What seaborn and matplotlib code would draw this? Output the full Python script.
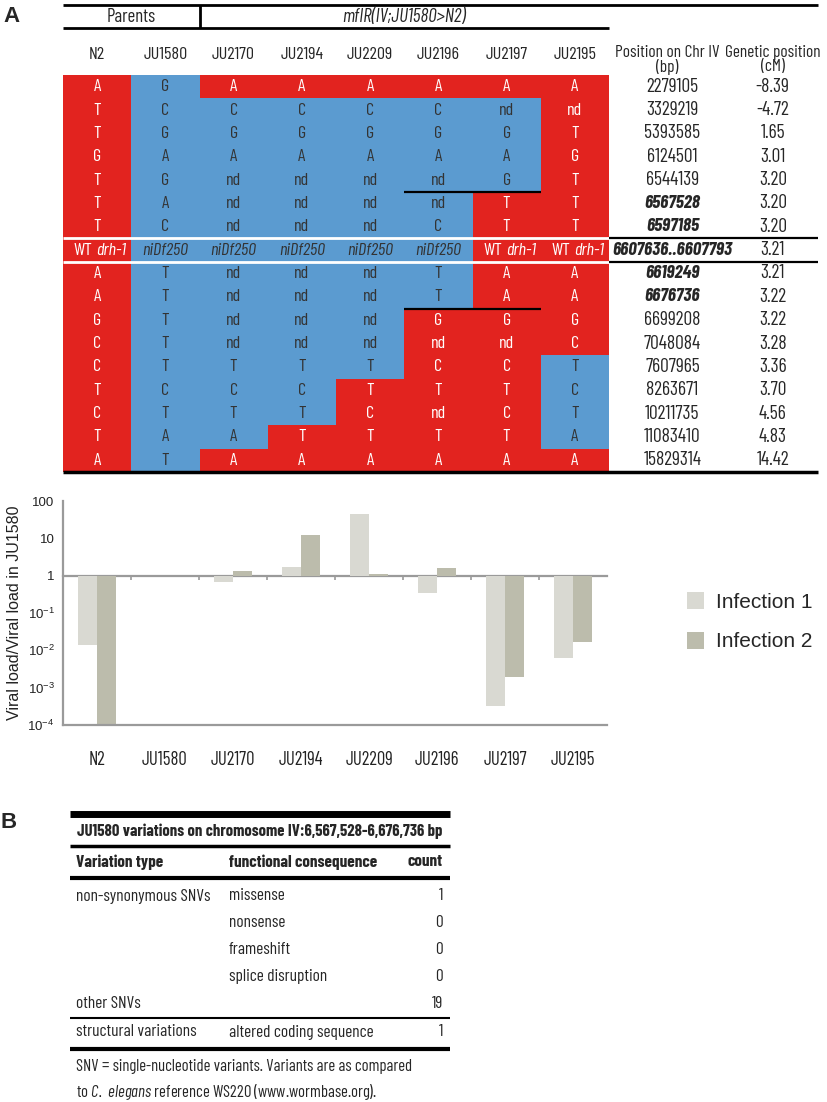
import numpy as np
import pandas as pd
import matplotlib
matplotlib.use('Agg')
import matplotlib.pyplot as plt
from matplotlib.colors import ListedColormap
import seaborn as sns

# strains: columns of the genotype table and categories of the bar chart
strains = ['N2', 'JU1580', 'JU2170', 'JU2194', 'JU2209', 'JU2196', 'JU2197', 'JU2195']

# markers on chromosome IV
pos_bp = ['2279105', '3329219', '5393585', '6124501', '6544139', '6567528', '6597185',
          '6607636..6607793', '6619249', '6676736', '6699208', '7048084', '7607965',
          '8263671', '10211735', '11083410', '15829314']
pos_cm = ['-8.39', '-4.72', '1.65', '3.01', '3.20', '3.20', '3.20', '3.21', '3.21',
          '3.22', '3.22', '3.28', '3.36', '3.70', '4.56', '4.83', '14.42']
bold_markers = ['6567528', '6597185', '6607636..6607793', '6619249', '6676736']

alleles = [
    ['A', 'G', 'A', 'A', 'A', 'A', 'A', 'A'],
    ['T', 'C', 'C', 'C', 'C', 'C', 'nd', 'nd'],
    ['T', 'G', 'G', 'G', 'G', 'G', 'G', 'T'],
    ['G', 'A', 'A', 'A', 'A', 'A', 'A', 'G'],
    ['T', 'G', 'nd', 'nd', 'nd', 'nd', 'G', 'T'],
    ['T', 'A', 'nd', 'nd', 'nd', 'nd', 'T', 'T'],
    ['T', 'C', 'nd', 'nd', 'nd', 'C', 'T', 'T'],
    ['WT drh-1', 'niDf250', 'niDf250', 'niDf250', 'niDf250', 'niDf250', 'WT drh-1', 'WT drh-1'],
    ['A', 'T', 'nd', 'nd', 'nd', 'T', 'A', 'A'],
    ['A', 'T', 'nd', 'nd', 'nd', 'T', 'A', 'A'],
    ['G', 'T', 'nd', 'nd', 'nd', 'G', 'G', 'G'],
    ['C', 'T', 'nd', 'nd', 'nd', 'nd', 'nd', 'C'],
    ['C', 'T', 'T', 'T', 'T', 'C', 'C', 'T'],
    ['T', 'C', 'C', 'C', 'T', 'T', 'T', 'C'],
    ['C', 'T', 'T', 'T', 'C', 'nd', 'C', 'T'],
    ['T', 'A', 'A', 'T', 'T', 'T', 'T', 'A'],
    ['A', 'T', 'A', 'A', 'A', 'A', 'A', 'A'],
]
# 0 = N2 region (red), 1 = JU1580 region (blue)
origin = [
    [0, 1, 0, 0, 0, 0, 0, 0],
    [0, 1, 1, 1, 1, 1, 1, 0],
    [0, 1, 1, 1, 1, 1, 1, 0],
    [0, 1, 1, 1, 1, 1, 1, 0],
    [0, 1, 1, 1, 1, 1, 1, 0],
    [0, 1, 1, 1, 1, 1, 0, 0],
    [0, 1, 1, 1, 1, 1, 0, 0],
    [0, 1, 1, 1, 1, 1, 0, 0],
    [0, 1, 1, 1, 1, 1, 0, 0],
    [0, 1, 1, 1, 1, 1, 0, 0],
    [0, 1, 1, 1, 1, 0, 0, 0],
    [0, 1, 1, 1, 1, 0, 0, 0],
    [0, 1, 1, 1, 1, 0, 0, 1],
    [0, 1, 1, 1, 0, 0, 0, 1],
    [0, 1, 1, 1, 0, 0, 0, 1],
    [0, 1, 1, 0, 0, 0, 0, 1],
    [0, 1, 0, 0, 0, 0, 0, 0],
]

# viral load relative to JU1580
infection1 = [0.0135, 1.0, 0.68, 1.67, 46.0, 0.35, 0.00032, 0.0063]
infection2 = [0.0001, 1.0, 1.33, 12.0, 1.08, 1.63, 0.0019, 0.0166]

# panel B table
b_title = 'JU1580 variations on chromosome IV:6,567,528-6,676,736 bp'
b_header = ['Variation type', 'functional consequence', 'count']
b_type = ['non-synonymous SNVs', '', '', '', 'other SNVs', 'structural variations']
b_consequence = ['missense', 'nonsense', 'frameshift', 'splice disruption', '', 'altered coding sequence']
b_count = ['1', '0', '0', '0', '19', '1']
b_note = ['SNV = single-nucleotide variants. Variants are as compared',
          r'to $\mathit{C.}$ $\mathit{elegans}$ reference WS220 (www.wormbase.org).']

RED = '#e2231f'
BLUE = '#5b9bd0'
INF1 = '#d9d9d2'
INF2 = '#bcbcac'
GRAY = '#9a9a9a'
COND = ['Barlow Condensed', 'IBM Plex Sans Condensed', 'DejaVu Sans']
REG = ['Liberation Sans', 'DejaVu Sans']

sns.set_style('white')
plt.rcParams['font.family'] = COND
plt.rcParams['font.stretch'] = 'condensed'
plt.rcParams['mathtext.fontset'] = 'custom'
plt.rcParams['mathtext.rm'] = 'Liberation Sans'
plt.rcParams['mathtext.it'] = 'Barlow Condensed:italic'

W, H = 828, 1102
fig = plt.figure(figsize=(W / 100, H / 100), dpi=100)


def frac(x0, y0, x1, y1):
    return [x0 / W, 1 - y1 / H, (x1 - x0) / W, (y1 - y0) / H]


canvas = fig.add_axes([0, 0, 1, 1])
canvas.set_xlim(0, W)
canvas.set_ylim(H, 0)
canvas.axis('off')

# ---------------- panel A: genotype table ----------------
ax_t = fig.add_axes(frac(63, 75, 609, 472))
sns.heatmap(np.array(origin), cmap=ListedColormap([RED, BLUE]), vmin=0, vmax=1,
            cbar=False, xticklabels=False, yticklabels=False, ax=ax_t)

for i, row in enumerate(alleles):
    for j, a in enumerate(row):
        col = 'white' if origin[i][j] == 0 else '#333333'
        if a == 'WT drh-1':
            # "WT" upright, gene name in italics
            ax_t.annotate('WT', (j + 0.5, i + 0.5), xytext=(-3.2, 0), textcoords='offset points',
                          ha='right', va='center', color=col, fontsize=13)
            ax_t.annotate('drh-1', (j + 0.5, i + 0.5), xytext=(-0.6, 0), textcoords='offset points',
                          ha='left', va='center', color=col, fontsize=13, style='italic')
        else:
            ax_t.text(j + 0.5, i + 0.5, a, ha='center', va='center', color=col, fontsize=13,
                      style='italic' if a == 'niDf250' else 'normal')

n_rows = len(alleles)
x_head, x_bp, x_cm, x_end = 8.85, 8.93, 10.4, 11.06
for i, (bp, cm) in enumerate(zip(pos_bp, pos_cm)):
    strong = bp in bold_markers
    ax_t.text(x_bp, i + 0.5, bp, ha='center', va='center', fontsize=13.6 if strong else 14,
              weight='bold' if strong else 'normal', style='italic' if strong else 'normal')
    ax_t.text(x_cm, i + 0.5, cm, ha='center', va='center', fontsize=14)

# column headers
for j, s in enumerate(strains):
    ax_t.text(j + 0.5, -0.86, s, ha='center', va='center', fontsize=13)
ax_t.text(x_head, -0.98, 'Position on Chr IV', ha='center', va='center', fontsize=12.5)
ax_t.text(x_head, -0.35, '(bp)', ha='center', va='center', fontsize=12.5)
ax_t.text(x_cm, -0.98, 'Genetic position', ha='center', va='center', fontsize=12.5)
ax_t.text(x_cm, -0.35, '(cM)', ha='center', va='center', fontsize=12.5)
ax_t.text(1.0, -2.48, 'Parents', ha='center', va='center', fontsize=13.5)
ax_t.text(5.0, -2.48, 'mfIR(IV;JU1580>N2)', ha='center', va='center', fontsize=13.8, style='italic')

# rules of the table
kw = dict(clip_on=False, color='black')
ax_t.hlines(-3, 0, x_end, lw=2, **kw)
ax_t.hlines(-2, 0, 8, lw=2, **kw)
ax_t.vlines(2, -3, -2, lw=2, **kw)
ax_t.hlines(n_rows, 0, x_end, lw=2.5, **kw)
ax_t.hlines([7, 8], 0, 8, lw=2, colors='white', clip_on=False)
ax_t.hlines([7, 8], 8, x_end, lw=1.6, **kw)
ax_t.hlines([5, 10], 5, 7, lw=1.6, **kw)

# ---------------- panel A: viral load bars ----------------
df = pd.DataFrame({
    'strain': strains * 2,
    'infection': ['Infection 1'] * len(strains) + ['Infection 2'] * len(strains),
    'ratio': infection1 + infection2,
})
df['log_ratio'] = np.log10(df['ratio'])

ax_b = fig.add_axes(frac(63, 501, 607, 725))
sns.barplot(data=df, x='strain', y='log_ratio', hue='infection', order=strains,
            palette=[INF1, INF2], width=0.57, gap=0, saturation=1, linewidth=0, ax=ax_b)
ax_b.set_xlim(-0.5, len(strains) - 0.5)
ax_b.set_ylim(-4, 2)
ax_b.set_yticks([2, 1, 0, -1, -2, -3, -4])
ax_b.set_yticklabels(['100', '10', '1', r'$10^{-1}$', r'$10^{-2}$', r'$10^{-3}$', r'$10^{-4}$'],
                     family=REG, stretch='normal', fontsize=9.5)
ax_b.tick_params(axis='y', length=0, pad=6, colors='#222222')
ax_b.tick_params(axis='x', length=0, pad=19, labelsize=13.5, colors='#222222')
ax_b.set_xlabel('')
ax_b.set_ylabel('Viral load/Viral load in JU1580', family=REG, stretch='normal', fontsize=11.5,
                color='#222222')
ax_b.yaxis.set_label_coords(-0.075, 0.5)
sns.despine(ax=ax_b)
for side in ['left', 'bottom']:
    ax_b.spines[side].set_color(GRAY)
    ax_b.spines[side].set_linewidth(1.6)

# baseline at a ratio of 1, with small marks between strains
base = ax_b.secondary_xaxis(4 / 6)
base.set_xticks(np.arange(0.5, len(strains) - 1, 1))
base.set_xticklabels([])
base.tick_params(axis='x', length=3, width=1.2, color=GRAY, direction='out',
                 bottom=True, top=False, labelbottom=False, labeltop=False)
for side in ['top', 'bottom']:
    base.spines[side].set_color(GRAY)
    base.spines[side].set_linewidth(1.6)

handles, labels = ax_b.get_legend_handles_labels()
ax_b.legend(handles, labels, loc='upper left', bbox_to_anchor=(687 / W, 1 - 592 / H),
            bbox_transform=fig.transFigure, frameon=False,
            prop={'family': REG, 'stretch': 'normal', 'size': 15},
            handlelength=0.8, handleheight=0.85, handletextpad=0.6, labelspacing=0.98,
            borderpad=0, borderaxespad=0)

# ---------------- panel B: table ----------------
bx0, bx1 = 70, 450
canvas.hlines(814, bx0, bx1, lw=5, color='black')
canvas.text((bx0 + bx1) / 2, 831, b_title, ha='center', va='center', fontsize=12, weight='bold')
canvas.hlines(846, bx0, bx1, lw=2.5, color='black')
col_x = [76, 229]
canvas.text(col_x[0], 862, b_header[0], ha='left', va='center', fontsize=12.3, weight='bold')
canvas.text(col_x[1], 862, b_header[1], ha='left', va='center', fontsize=12.3, weight='bold')
canvas.text(443, 862, b_header[2], ha='right', va='center', fontsize=12.3, weight='bold')
canvas.hlines(878, bx0, bx1, lw=3, color='black')
for i, (t, c, n) in enumerate(zip(b_type, b_consequence, b_count)):
    y = 896 + i * 26.8 + (2 if i == len(b_type) - 1 else 0)
    canvas.text(col_x[0], y, t, ha='left', va='center', fontsize=12.5)
    canvas.text(col_x[1], y, c, ha='left', va='center', fontsize=12.5)
    canvas.text(443, y, n, ha='right', va='center', fontsize=12.5)
canvas.hlines(1018, bx0, bx1, lw=1.5, color='black')
canvas.hlines(1049, bx0, bx1, lw=3, color='black')
for i, line in enumerate(b_note):
    canvas.text(col_x[0], 1066 + i * 26, line, ha='left', va='center', fontsize=12)

# panel letters
canvas.text(3, 16, 'A', ha='left', va='center', fontsize=16, weight='bold', family=REG, stretch='normal')
canvas.text(0, 823, 'B', ha='left', va='center', fontsize=16, weight='bold', family=REG, stretch='normal')

fig.savefig('out.png', dpi=100)
